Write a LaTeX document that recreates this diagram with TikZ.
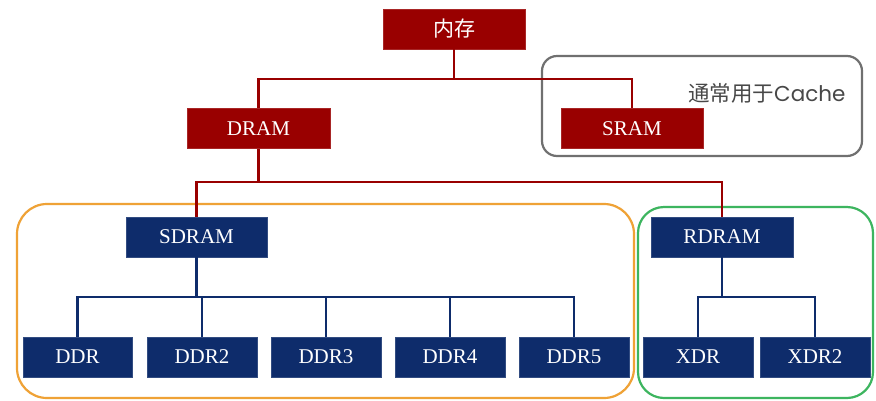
\documentclass[tikz,border=0pt]{standalone}
\usepackage{fontspec}
\setmainfont{Liberation Serif}
\newfontfamily\cjk{Noto Sans CJK SC}
\newfontfamily\popp{Poppins}
\definecolor{dred}{HTML}{990000}
\definecolor{dblue}{HTML}{0E2C6B}
\definecolor{gorange}{HTML}{EFA236}
\definecolor{ggreen}{HTML}{3DB55F}
\definecolor{ggray}{HTML}{707070}
\definecolor{tgray}{HTML}{484848}
\tikzset{
  redbox/.style={fill=dred, draw=dred!85!white, line width=0.8pt, text=white, inner sep=0pt, minimum height=40pt, font=\fontsize{21}{21}\selectfont},
  bluebox/.style={fill=dblue, draw=dblue!85!white, line width=0.8pt, text=white, inner sep=0pt, minimum height=40pt, font=\fontsize{21}{21}\selectfont},
  redline/.style={draw=dred, line width=2.3pt},
  blueline/.style={draw=dblue, line width=2.3pt},
  grp/.style={line width=2.2pt}
}
\begin{document}
\begin{tikzpicture}[x=1pt,y=-1pt]
\useasboundingbox (0,0) rectangle (876,400);
\fill[white] (0,0) rectangle (876,400);
% group frames
\draw[grp, ggray, rounded corners=15pt] (542,56) rectangle (862,156);
\draw[grp, gorange, rounded corners=30pt] (17,204) rectangle (634,398);
\draw[grp, ggreen, rounded corners=26pt] (638,207) rectangle (873,398);
% nodes
\node[redbox, minimum width=142pt, font=\cjk\fontsize{21}{21}\selectfont] (mem) at (454,29) {内存};
\node[redbox, minimum width=143pt] (dram) at (258.5,128.5) {DRAM};
\node[redbox, minimum width=142pt] (sram) at (632,128.5) {SRAM};
\node[text=tgray, inner sep=0pt, anchor=west] (note) at (688,93) {\cjk\fontsize{21.5}{21.5}\selectfont 通常用于\popp Cache};
\node[bluebox, minimum width=141pt] (sdram) at (196.5,237) {SDRAM};
\node[bluebox, minimum width=142pt] (rdram) at (722,237) {RDRAM};
\node[bluebox, minimum width=109pt] (ddr) at (77.5,357) {DDR};
\node[bluebox, minimum width=110pt] (ddr2) at (202,357) {DDR2};
\node[bluebox, minimum width=110pt] (ddr3) at (326,357) {DDR3};
\node[bluebox, minimum width=110pt] (ddr4) at (450,357) {DDR4};
\node[bluebox, minimum width=110pt] (ddr5) at (574,357) {DDR5};
\node[bluebox, minimum width=110pt] (xdr) at (698,357) {XDR};
\node[bluebox, minimum width=110pt] (xdr2) at (815,357) {XDR2};
% bus points
\coordinate (b1) at (454,79);
\coordinate (b2) at (258.5,182);
\coordinate (b3) at (196.5,297);
\coordinate (b4) at (722,297);
% connectors
\draw[redline] (mem.south) -- (b1);
\draw[redline] (b1) -| (dram.north);
\draw[redline] (b1) -| (sram.north);
\draw[redline] (dram.south) -- (b2);
\draw[redline] (b2) -| (sdram.north);
\draw[redline] (b2) -| (rdram.north);
\draw[blueline] (sdram.south) -- (b3);
\foreach \n in {ddr,ddr2,ddr3,ddr4,ddr5} {\draw[blueline] (b3) -| (\n.north);}
\draw[blueline] (rdram.south) -- (b4);
\draw[blueline] (b4) -| (xdr.north);
\draw[blueline] (b4) -| (xdr2.north);
\end{tikzpicture}
\end{document}
